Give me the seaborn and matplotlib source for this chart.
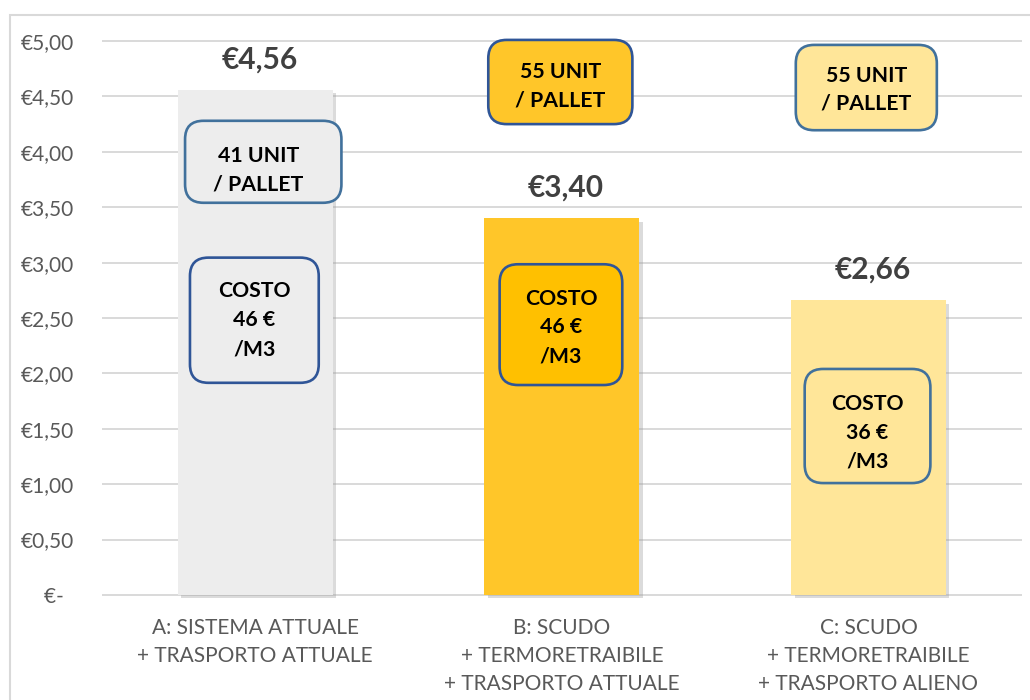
import matplotlib
matplotlib.use("Agg")
import matplotlib.pyplot as plt
import matplotlib.patheffects as pe
from matplotlib.patches import FancyBboxPatch, Rectangle
import seaborn as sns
import pandas as pd

# Data
categories = ["A: SISTEMA ATTUALE\n+ TRASPORTO ATTUALE",
              "B: SCUDO\n+ TERMORETRAIBILE\n+ TRASPORTO ATTUALE",
              "C: SCUDO\n+ TERMORETRAIBILE\n+ TRASPORTO ALIENO"]
costs = [4.56, 3.40, 2.66]
units_per_pallet = [41, 55, 55]
cost_per_m3 = [46, 46, 36]
y_ticks = [0, 0.5, 1.0, 1.5, 2.0, 2.5, 3.0, 3.5, 4.0, 4.5, 5.0]

# Styling / layout
bar_colors = ["#EDEDED", "#FFC629", "#FFE699"]
unit_box_fill = ["#EDEDED", "#FFC629", "#FFE699"]
unit_box_edge = ["#41719C", "#2F5597", "#41719C"]
cost_box_fill = ["#EDEDED", "#FFC000", "#FFE699"]
cost_box_edge = ["#2F5597", "#2F5597", "#41719C"]
# box centres (x offset in category units, y in data) and sizes
unit_box = [(0.026, 3.91, 0.51, 0.74), (-0.005, 4.63, 0.47, 0.76), (-0.007, 4.58, 0.46, 0.77)]
cost_box = [(-0.003, 2.48, 0.42, 1.13), (-0.003, 2.44, 0.40, 1.09), (-0.003, 1.525, 0.41, 1.03)]
# text nudges inside the boxes, in points (x, y)
unit_text_nudge = [(-3.5, -6), (0, -3), (0, -1.5)]
cost_text_nudge = [(0, 0), (0, -2), (0, -5)]

sns.set_theme(style="white")
plt.rcParams["font.family"] = ["Lato", "DejaVu Sans"]

fig = plt.figure(figsize=(10.3, 7), dpi=100)
ax = fig.add_axes([0.099, 0.1453, 0.893, 0.804])

df = pd.DataFrame({"cat": categories, "cost": costs})
sns.barplot(data=df, x="cat", y="cost", hue="cat", palette=bar_colors,
            saturation=1, width=0.505, legend=False, ax=ax, zorder=3, linewidth=0)

for bar in ax.patches:
    bar.set_path_effects([pe.SimplePatchShadow(offset=(2.5, -2.5), shadow_rgbFace="#9a9a9a", alpha=0.35),
                          pe.Normal()])

ax.set_xlim(-0.5, 2.5)
ax.set_ylim(-0.03, 5.05)
ax.set_yticks(y_ticks)
ax.set_yticklabels(["€-  " if t == 0 else f"€{t:.2f}".replace(".", ",") for t in y_ticks])
ax.yaxis.grid(True, color="#D9D9D9", linewidth=1.4, zorder=0)
ax.set_axisbelow(True)
for s in ax.spines.values():
    s.set_visible(False)
ax.tick_params(axis="y", length=0, pad=20, labelsize=15, labelcolor="#595959")
ax.tick_params(axis="x", length=0, pad=14, labelsize=15, labelcolor="#595959")
for lab in ax.get_xticklabels():
    lab.set_linespacing(1.5)
ax.set_xlabel("")
ax.set_ylabel("")

# value labels
for i, v in enumerate(costs):
    ax.annotate(f"€{v:.2f}".replace(".", ","), (i, v), xytext=(3, 22),
                textcoords="offset points", ha="center", va="center",
                fontsize=21.5, fontweight="bold", color="#404040", zorder=6)

# rounded annotation boxes
x_px = 306.7
y_px = 110.8
aspect = x_px / y_px


def draw_box(cx, cy, w, h, fill, edge, text, ls, nudge):
    ax.add_patch(FancyBboxPatch((cx - w / 2, cy - h / 2), w, h,
                                boxstyle="round,pad=0,rounding_size=0.06",
                                mutation_aspect=aspect, facecolor=fill,
                                edgecolor=edge, linewidth=1.9, zorder=4))
    ax.annotate(text, (cx, cy), xytext=nudge, textcoords="offset points",
                ha="center", va="center", fontsize=15.3, fontweight="bold",
                color="black", linespacing=ls, zorder=5)


for i in range(len(categories)):
    dx, cy, w, h = unit_box[i]
    draw_box(i + dx, cy, w, h, unit_box_fill[i], unit_box_edge[i],
             f"{units_per_pallet[i]} UNIT\n/ PALLET", 1.5, unit_text_nudge[i])
    dx, cy, w, h = cost_box[i]
    draw_box(i + dx, cy, w, h, cost_box_fill[i], cost_box_edge[i],
             f"COSTO\n{cost_per_m3[i]} €\n/M3", 1.55, cost_text_nudge[i])

# outer chart frame
fig.patches.append(Rectangle((10 / 1030, -0.1), 1.2, 1.1 - 15 / 700,
                             transform=fig.transFigure, fill=False,
                             edgecolor="#D9D9D9", linewidth=1.5))

fig.savefig("out.png", dpi=100)
